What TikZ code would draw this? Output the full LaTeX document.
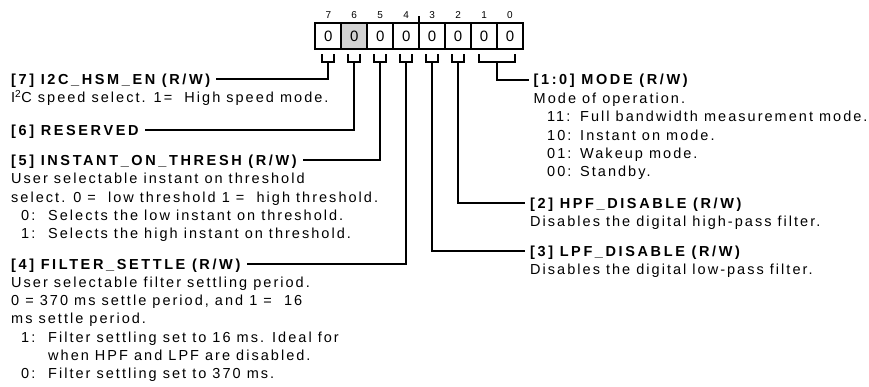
\documentclass[tikz,border=0pt]{standalone}
\usepackage{fontspec}
\setmainfont{Liberation Sans}[LetterSpace=14, BoldFeatures={LetterSpace=18}]
\usetikzlibrary{calc}
\newcommand{\blk}[1]{\begin{tabular}[t]{@{}l@{}}#1\end{tabular}}
\newcommand{\itmL}[2]{\hspace*{10pt}\makebox[27pt][l]{#1}#2}
\newcommand{\itmR}[2]{\hspace*{13.5pt}\makebox[33pt][l]{#1}#2}
\newcommand{\cont}[1]{\hspace*{37pt}#1}
\begin{document}
\begin{tikzpicture}[x=1pt,y=-1pt,
  head/.style={anchor=base west, inner sep=0pt, font=\fontsize{14.5}{18.3}\selectfont\bfseries},
  body/.style={anchor=base west, inner sep=0pt, font=\fontsize{14.5}{18.3}\selectfont},
  wire/.style={line width=2pt},
  bitnum/.style={anchor=base, inner sep=0pt, font=\fontsize{10}{12}\selectfont},
  regbox/.style={draw, line width=2pt, outer sep=0pt, minimum width=25.96pt, minimum height=26.6pt, inner sep=0pt, font=\fontsize{15}{15}\selectfont},
]
\useasboundingbox (0,0) rectangle (869,387);

% register boxes and bit numbers
\foreach \n/\x/\f in {7/328.3/white,6/354.26/gray!35,5/380.22/white,4/406.18/white,3/432.14/white,2/458.1/white,1/484.06/white,0/510.02/white}{
  \node[regbox, fill=\f] (b\n) at (\x,36) {0};
  \node[bitnum] (n\n) at (\x,18.5) {\n};
}
\draw[line width=1.5pt] (b4.north east) -- ++(0,-6.5);

% brackets
\foreach \n in {7,6,5,4,3,2}{
  \draw[wire] ($(b\n.south)+(-6,5)$) -- ++(0,7.4) -- ++(12,0) -- ++(0,-7.4);
  \coordinate (k\n) at ($(b\n.south)+(0,12.4)$);
}
\draw[wire] ($(b1.south)+(-5,5)$) -- ++(0,7.4) -| ($(b0.south)+(5,5)$);
\coordinate (k10) at ($(b1.south)!0.5!(b0.south)+(0,12.4)$);

% left column
\node[head] (h7) at (11,84.5) {[7] I2C\_HSM\_EN (R/W)};
\node[body] (d7) at (11,102.8) {I\textsuperscript{2}C speed select. 1=\ \ High speed mode.};
\node[head] (h6) at (11,135.5) {[6] RESERVED};
\node[head] (h5) at (11,165.5) {[5] INSTANT\_ON\_THRESH (R/W)};
\node[body] (d5) at (11,183.8) {\blk{User selectable instant on threshold\\
select. 0 =\ \ low threshold 1 =\ \ high threshold.\\
\itmL{0:}{Selects the low instant on threshold.}\\
\itmL{1:}{Selects the high instant on threshold.}}};
\node[head] (h4) at (11,269) {[4] FILTER\_SETTLE (R/W)};
\node[body] (d4) at (11,287.3) {\blk{User selectable filter settling period.\\
0 = 370 ms settle period, and 1 =\ \ 16\\
ms settle period.\\
\itmL{1:}{Filter settling set to 16 ms. Ideal for}\\
\cont{when HPF and LPF are disabled.}\\
\itmL{0:}{Filter settling set to 370 ms.}}};

% right column
\node[head] (h10) at (533.5,85) {[1:0] MODE (R/W)};
\node[body] (d10) at (533.5,103.5) {\blk{Mode of operation.\\
\itmR{11:}{Full bandwidth measurement mode.}\\
\itmR{10:}{Instant on mode.}\\
\itmR{01:}{Wakeup mode.}\\
\itmR{00:}{Standby.}}};
\node[head] (h2) at (530,208.3) {[2] HPF\_DISABLE (R/W)};
\node[body] (d2) at (530,226.6) {Disables the digital high-pass filter.};
\node[head] (h3) at (530,256) {[3] LPF\_DISABLE (R/W)};
\node[body] (d3) at (530,274.3) {Disables the digital low-pass filter.};

% connectors
\draw[wire] (k7) |- ($(h7.base east)+(6,-5)$);
\draw[wire] (k6) |- ($(h6.base east)+(6,-5)$);
\draw[wire] (k5) |- ($(h5.base east)+(6,-5)$);
\draw[wire] (k4) |- ($(h4.base east)+(6,-5)$);
\draw[wire] (k3) |- ($(h3.base west)+(-5,-5)$);
\draw[wire] (k2) |- ($(h2.base west)+(-5,-5)$);
\draw[wire] (k10) |- ($(h10.base west)+(-5,-5)$);
\end{tikzpicture}
\end{document}
